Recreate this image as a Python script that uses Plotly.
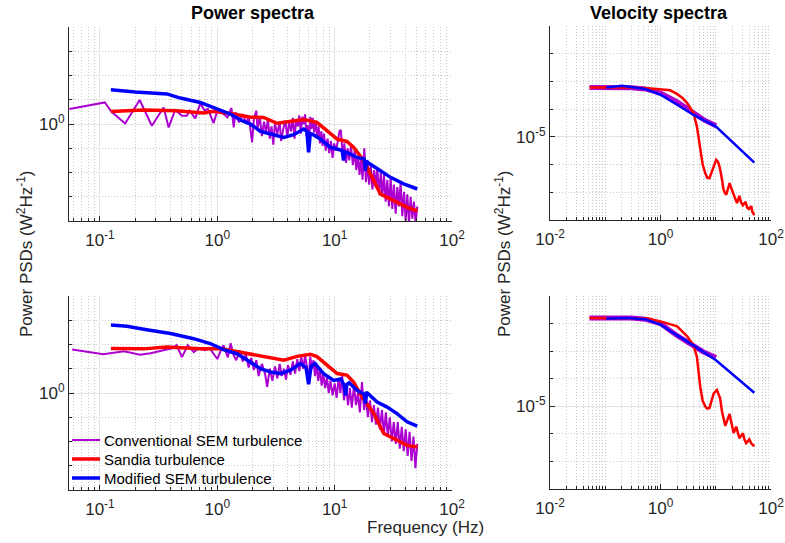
import numpy as np
import plotly.graph_objects as go

##### Data (PSD values stored as log10) #####
# Power spectra, top row
tl_conv_f = [0.055, 0.11, 0.125, 0.164, 0.218, 0.277, 0.349, 0.385, 0.438, 0.50, 0.55, 0.58, 0.65,
             0.716, 0.78, 0.83, 0.86, 0.93, 1.0, 1.13, 1.22, 1.32, 1.38, 1.43, 1.53, 1.65, 1.77, 1.85,
             1.98, 2.05, 2.15, 2.2, 2.3, 2.4, 2.5, 2.6, 2.7, 2.8, 2.9, 3.0, 3.1, 3.25, 3.4, 3.5, 3.65,
             3.8, 3.95, 4.1, 4.25, 4.4, 4.55, 4.7, 4.85, 5.0, 5.15, 5.3, 5.45, 5.6, 5.75, 5.9, 6.05,
             6.2, 6.35, 6.5, 6.7, 6.9, 7.1, 7.3, 7.5, 7.7, 7.9, 8.1, 8.4, 8.7, 9.0, 9.3, 9.6, 9.9,
             10.3, 10.7, 11.0, 11.3, 11.7, 12.1, 12.5, 12.9, 13.3, 13.8, 14.3, 14.8, 15.3, 15.8, 16.3,
             16.8, 17.3, 17.9, 18.5, 19.1, 19.7, 20.3, 21.0, 21.7, 22.4, 23.1, 23.9, 24.7, 25.5, 26.3,
             27.2, 28.1, 29.0, 30.0, 31.0, 32.0, 33.1, 34.2, 35.3, 36.5, 37.7, 39.0, 40.3, 41.6, 43.0,
             44.4, 45.9, 47.4, 49.0, 50.6]
tl_conv_log = [0.62, 0.89, 0.51, 0.02, 0.99, -0.07, 0.68, -0.14, 0.58, 0.34, 0.34, 0.55, 0.23,
               0.85, 0.55, 0.62, 0.45, 0.04, 0.55, 0.41, 0.27, 0.66, -0.14, 0.48, 0.07, 0.41, 0.0, 0.35,
               -0.76, 0.21, 0.55, -0.2, 0.3, -0.5, 0.1, -0.35, 0.2, -0.6, -0.1, -0.85, 0.0, -0.4, 0.1, -0.7, -0.2,
               0.15, -0.55, 0.1, -0.3, 0.25, -0.6, 0.2, -0.1, 0.35, -0.4, 0.3, 0.0, 0.4, -0.5, -0.05, -0.9,
               0.3, -0.2, 0.25, -0.35, 0.1, -0.5, -0.1, -0.8, -0.3, -0.9, -0.4, -1.1, -0.6, -1.2, -0.7, -1.4, -0.8,
               -1.1, -0.7, -0.3, -0.25, -1.3, -0.8, -1.6, -1.0, -1.5, -0.9, -1.7, -1.1, -1.9, -1.3, -2.1,
               -1.4, -2.3, -1.0, -2.4, -1.6, -2.5, -1.7, -2.7, -1.9, -2.6, -1.8, -2.9, -2.0, -3.0, -2.1,
               -3.2, -2.3, -3.4, -2.2, -3.5, -2.5, -3.7, -2.6, -3.4, -2.4, -3.8, -2.8, -4.0, -2.9, -4.1,
               -3.0, -3.9, -3.2, -4.1, -3.4]
tl_sandia_f = [0.124, 0.235, 0.45, 0.76, 0.93, 1.38, 1.91, 2.48, 3.23, 4.19, 5.45, 7.07, 8.6, 10.5,
               12.7, 14.5, 17.7, 21.6, 24.6, 31.9, 41.4, 50.6]
tl_sandia_log = [0.52, 0.58, 0.55, 0.45, 0.52, 0.41, 0.28, 0.27, 0.03, 0.11, 0.18, 0.07, -0.28, -0.62,
                 -0.72, -0.96, -1.51, -2.34, -2.89, -3.16, -3.44, -3.58]
tl_mod_f = [0.124, 0.2, 0.372, 0.484, 0.716, 0.93, 1.29, 1.62, 1.91, 2.33, 2.83, 3.68, 4.48, 5.45, 5.8,
            6.0, 6.2, 6.4, 7.55, 9.2, 10.5, 11.6, 11.9, 12.2, 12.7, 15.5, 17.9, 18.3, 18.7, 19.0, 24.6,
            29.9, 38.8, 50.6]
tl_mod_log = [1.41, 1.32, 1.24, 1.07, 0.89, 0.66, 0.41, 0.14, 0.0, -0.30, -0.41, -0.55, -0.44, -0.21, -0.3,
              -1.17, -0.4, -0.41, -0.62, -0.96, -1.03, -1.1, -1.51, -1.15, -1.17, -1.38, -1.45, -1.93, -1.5,
              -1.58, -1.93, -2.2, -2.47, -2.68]

# Power spectra, bottom row
bl_conv_f = [0.058, 0.107, 0.16, 0.22, 0.27, 0.33, 0.37, 0.42, 0.45, 0.50, 0.56, 0.63, 0.69, 0.78, 0.87,
             0.93, 1.0, 1.07, 1.13, 1.23, 1.30, 1.38, 1.45, 1.55, 1.65, 1.75, 1.85, 1.95, 2.05, 2.15,
             2.25, 2.4, 2.55, 2.66, 2.8, 2.95, 3.1, 3.25, 3.4, 3.55, 3.7, 3.85, 4.0, 4.2, 4.4, 4.6, 4.8,
             5.0, 5.2, 5.4, 5.6, 5.8, 6.0, 6.2, 6.4, 6.6, 6.8, 7.0, 7.25, 7.5, 7.75, 8.0, 8.3, 8.6, 8.9,
             9.2, 9.6, 10.0, 10.4, 10.8, 11.2, 11.6, 12.0, 12.5, 13.0, 13.5, 14.0, 14.6, 15.2, 15.8,
             16.4, 17.1, 17.8, 18.5, 19.2, 20.0, 20.8, 21.6, 22.5, 23.4, 24.3, 25.3, 26.3, 27.3, 28.4,
             29.5, 30.7, 31.9, 33.2, 34.5, 35.9, 37.3, 38.8, 40.3, 41.9, 43.5, 45.2, 47.0, 48.8, 50.6]
bl_conv_log = [1.79, 1.60, 1.72, 1.58, 1.64, 1.72, 1.79, 1.85, 1.97, 1.48, 1.97, 1.69, 1.84, 1.76, 1.82,
               1.62, 1.40, 1.75, 1.97, 1.47, 2.05, 1.55, 1.35, 1.75, 1.3, 1.6, 1.05, 1.45, 0.95, 1.35,
               0.7, 1.2, 0.8, 0.25, 1.0, 0.5, 1.1, 0.6, 1.2, 0.7, 1.0, 0.55, 1.15, 0.75, 1.3, 0.8, 1.4,
               0.9, 1.5, 1.0, 1.55, 1.1, 0.5, 1.5, 1.0, 1.35, 0.7, 1.2, 0.5, 1.0, 0.3, 0.8, 0.2, 0.65, 0.0,
               0.5, -0.1, 0.4, -0.2, 0.6, 0.0, 0.7, -0.3, 0.3, -0.5, 0.2, -0.6, 0.3, -0.5, 0.0,
               -0.8, 0.45, -0.7, -0.2, -1.0, -0.3, -1.2, -0.5, -1.3, -0.6, -1.5, -0.7, -1.7, -0.8, -1.8,
               -1.0, -2.0, -1.2, -2.1, -1.2, -2.3, -1.4, -2.4, -1.5, -2.6, -1.6, -2.8, -1.8, -3.1, -2.1]
bl_sandia_f = [0.124, 0.235, 0.37, 0.72, 1.06, 1.57, 1.91, 2.48, 3.23, 3.7, 4.78, 6.2, 7.07, 8.6, 10.5,
               12.7, 14.5, 17.1, 21.6, 26.2, 31.9, 41.4, 50.6]
bl_sandia_log = [1.84, 1.82, 1.90, 1.82, 1.83, 1.69, 1.62, 1.52, 1.42, 1.35, 1.51, 1.6, 1.5, 1.14, 0.8,
                 0.74, 0.45, -0.16, -0.85, -1.67, -1.88, -2.16, -2.23]
bl_mod_f = [0.124, 0.17, 0.25, 0.40, 0.63, 0.87, 1.13, 1.47, 1.91, 2.33, 2.83, 3.45, 4.19, 5.1, 5.7, 6.0,
            6.3, 6.8, 8.06, 9.8, 11.3, 12.1, 12.4, 12.7, 13.3, 15.5, 17.8, 18.3, 18.7, 19.0, 23.0, 28.0,
            34.0, 41.4, 50.6]
bl_mod_log = [2.80, 2.75, 2.61, 2.45, 2.24, 2.04, 1.79, 1.62, 1.28, 1.0, 0.87, 0.80, 0.94, 1.21, 1.05, 0.36,
              1.1, 1.21, 0.80, 0.52, 0.58, 0.3, -0.1, 0.35, 0.42, 0.11, -0.05, -0.44, 0.0, 0.0, -0.37, -0.58,
              -0.85, -1.19, -1.37]

# Velocity spectra, top row
tr_conv_f = [0.052, 0.1, 0.2, 0.3, 0.53, 1.0, 1.98, 3.45, 6.0, 10.1]
tr_conv_log = [-3.22, -3.21, -3.2, -3.23, -3.27, -3.42, -3.73, -4.03, -4.38, -4.6]
tr_sandia_f = [0.052, 0.3, 0.6, 1.0, 1.5, 1.98, 2.5, 3.04, 3.96, 4.56, 5.24, 5.8, 6.45, 7.0, 7.7, 8.4,
               9.0, 10.2, 11.0, 11.8, 13.0, 13.8, 14.6, 15.5, 16.5, 17.8, 19.5, 21.3, 22.5, 24.2, 26.8,
               28.5, 31.0, 34.7, 37.0, 39.8, 44.0, 46.0, 49.9]
tr_sandia_log = [-3.22, -3.22, -3.25, -3.3, -3.32, -3.45, -3.6, -3.78, -4.14, -4.63, -5.47, -6.0, -6.31,
                 -6.47, -6.49, -6.3, -6.12, -5.83, -5.9, -6.1, -6.55, -6.9, -7.02, -7.09, -6.9, -6.67,
                 -6.9, -7.1, -7.3, -7.39, -7.13, -7.35, -7.47, -7.34, -7.55, -7.6, -7.5, -7.7, -7.82]
tr_mod_f = [0.104, 0.2, 0.53, 1.0, 2.0, 3.96, 10.1, 49.9]
tr_mod_log = [-3.22, -3.16, -3.27, -3.48, -3.84, -4.21, -4.63, -5.93]

# Velocity spectra, bottom row
br_conv_f = [0.052, 0.1, 0.2, 0.3, 0.53, 1.0, 1.98, 3.45, 6.0, 10.1]
br_conv_log = [-1.80, -1.79, -1.79, -1.80, -1.84, -2.0, -2.43, -2.73, -3.03, -3.23]
br_sandia_f = [0.052, 0.3, 0.6, 1.0, 2.0, 3.04, 3.96, 4.56, 5.24, 5.8, 6.45, 7.0, 7.7, 8.4, 9.2, 10.5,
               12.0, 13.0, 14.9, 16.2, 17.8, 19.2, 21.1, 23.5, 25.0, 26.8, 31.0, 33.0, 35.5, 40.5, 44.0,
               49.9]
br_sandia_log = [-1.80, -1.80, -1.82, -1.92, -2.1, -2.46, -2.79, -3.21, -4.29, -4.8, -5.0, -5.08, -5.06,
                 -4.8, -4.53, -4.41, -4.71, -5.2, -5.71, -5.5, -5.28, -5.6, -5.97, -5.74, -6.0, -6.16,
                 -5.98, -6.2, -6.34, -6.2, -6.35, -6.45]
br_mod_f = [0.104, 0.25, 0.53, 1.0, 2.0, 3.96, 10.1, 49.9]
br_mod_log = [-1.82, -1.80, -1.84, -2.04, -2.43, -2.79, -3.33, -4.51]

series_names = ['Conventional SEM turbulence', 'Sandia turbulence', 'Modified SEM turbulence']

##### Styling #####
W, H = 785, 543
PURPLE = '#AC00D0'
RED = '#FF0000'
BLUE = '#0000FF'
AXC = '#262626'
FONT = 'Liberation Sans, Arial, sans-serif'
colors = [PURPLE, RED, BLUE]


def px_x(p):
    return p / W


def px_y(p):
    return 1 - p / H


def sup(e):
    return '10<sup>%s</sup>' % e


def minor_vals(lo, hi):
    return [m * 10.0 ** d for d in range(lo, hi + 1) for m in range(1, 10)]


def decades(lo, hi, skip=()):
    return [10.0 ** d for d in range(lo, hi + 1) if d not in skip]


fig = go.Figure()

panels = [
    ('x', 'y', [tl_conv_f, tl_sandia_f, tl_mod_f], [tl_conv_log, tl_sandia_log, tl_mod_log], [2, 3.5, 3.5]),
    ('x2', 'y2', [tr_conv_f, tr_sandia_f, tr_mod_f], [tr_conv_log, tr_sandia_log, tr_mod_log], [5, 2.5, 2.5]),
    ('x3', 'y3', [bl_conv_f, bl_sandia_f, bl_mod_f], [bl_conv_log, bl_sandia_log, bl_mod_log], [2, 3.5, 3.5]),
    ('x4', 'y4', [br_conv_f, br_sandia_f, br_mod_f], [br_conv_log, br_sandia_log, br_mod_log], [5, 2.5, 2.5]),
]

for xa, ya, fs, logs, widths in panels:
    for name, f, lg, col, lw in zip(series_names, fs, logs, colors, widths):
        fig.add_trace(go.Scatter(
            x=f, y=list(np.power(10.0, lg)), mode='lines', name=name,
            line=dict(color=col, width=lw), xaxis=xa, yaxis=ya,
            showlegend=False, hoverinfo='skip'
        ))

grid_major = '#e3e3e3'
grid_minor = '#c9c9c9'


def log_axis(dom, rng, tv, tt, minor, anchor, standoff=0):
    return dict(type='log', domain=dom, range=rng, anchor=anchor, automargin=False,
                tickvals=tv, ticktext=tt, ticks='inside', ticklen=5, tickcolor=AXC,
                ticklabelstandoff=standoff,
                showgrid=True, gridcolor=grid_major, gridwidth=1,
                showline=True, linecolor=AXC, linewidth=1, mirror=False, zeroline=False,
                tickfont=dict(family=FONT, size=17, color=AXC),
                minor=dict(tickmode='array', tickvals=minor, ticks='inside', ticklen=3,
                           tickcolor=AXC, showgrid=True, gridcolor=grid_minor, griddash='1px,2px',
                           gridwidth=1))


lx_dom = [px_x(69), px_x(452)]
rx_dom = [px_x(550), px_x(771)]
lx_rng = [np.log10(0.0545), 2]
rx_rng = [-2, 2]
lx_tv = [0.1, 1, 10, 100]
lx_tt = [sup('-1'), sup('0'), sup('1'), sup('2')]
rx_tv = [0.01, 1, 100]
rx_tt = [sup('-2'), sup('0'), sup('2')]
lx_minor = [v for v in minor_vals(-2, 1) if 0.05 < v < 100 and v not in lx_tv]
rx_minor = [v for v in minor_vals(-2, 1) if v not in rx_tv]
ly_minor = decades(-4, 4, skip=(0,))
ry_minor = decades(-8, -1, skip=(-5,))

fig.update_layout(
    width=W, height=H,
    margin=dict(l=0, r=0, t=0, b=0),
    paper_bgcolor='white', plot_bgcolor='white',
    font=dict(family=FONT, color=AXC),
    showlegend=False,
    xaxis=log_axis(lx_dom, lx_rng, lx_tv, lx_tt, lx_minor, 'y', 4),
    yaxis=log_axis([px_y(221), px_y(27)], [-4, 4], [1], [sup('0')], ly_minor, 'x'),
    xaxis2=log_axis(rx_dom, rx_rng, rx_tv, rx_tt, rx_minor, 'y2', 4),
    yaxis2=log_axis([px_y(220), px_y(26)], [-8, -1], [1e-5], [sup('-5')], ry_minor, 'x2'),
    xaxis3=log_axis(lx_dom, lx_rng, lx_tv, lx_tt, lx_minor, 'y3', 4),
    yaxis3=log_axis([px_y(490), px_y(296)], [-4, 4], [1], [sup('0')], ly_minor, 'x3'),
    xaxis4=log_axis(rx_dom, rx_rng, rx_tv, rx_tt, rx_minor, 'y4', 4),
    yaxis4=log_axis([px_y(489), px_y(296)], [-8, -1], [1e-5], [sup('-5')], ry_minor, 'x4'),
)

# legend drawn inside the lower power-spectra panel, as in the original figure
legend_rows = [440, 459, 478]
legend_widths = [2, 3.5, 3.5]
for name, col, lw, row in zip(series_names, colors, legend_widths, legend_rows):
    fig.add_shape(type='line', xref='paper', yref='paper',
                  x0=px_x(72), x1=px_x(100), y0=px_y(row), y1=px_y(row),
                  line=dict(color=col, width=lw))
    fig.add_annotation(text=name, x=px_x(102), y=px_y(row), xref='paper', yref='paper',
                       showarrow=False, xanchor='left', yanchor='middle',
                       font=dict(family=FONT, size=15, color='black'))

# titles and axis labels
notes = [
    ('<b>Power spectra</b>', 253, 13, 0, 18, 'black'),
    ('<b>Velocity spectra</b>', 659, 13, 0, 18, 'black'),
    ('Power PSDs (W<sup>2</sup>Hz<sup>-1</sup>)', 25, 254, -90, 17, AXC),
    ('Power PSDs (W<sup>2</sup>Hz<sup>-1</sup>)', 503, 254, -90, 17, AXC),
    ('Frequency (Hz)', 425, 527, 0, 17, AXC),
]
for txt, x, y, ang, size, col in notes:
    fig.add_annotation(text=txt, x=px_x(x), y=px_y(y), xref='paper', yref='paper',
                       showarrow=False, textangle=ang, xanchor='center', yanchor='middle',
                       font=dict(family=FONT, size=size, color=col))

# the page's default body margin would shift the fixed-size figure; remove it
fig.write_html('out.html', config={'displayModeBar': False},
               post_script="document.body.style.margin='0';")
